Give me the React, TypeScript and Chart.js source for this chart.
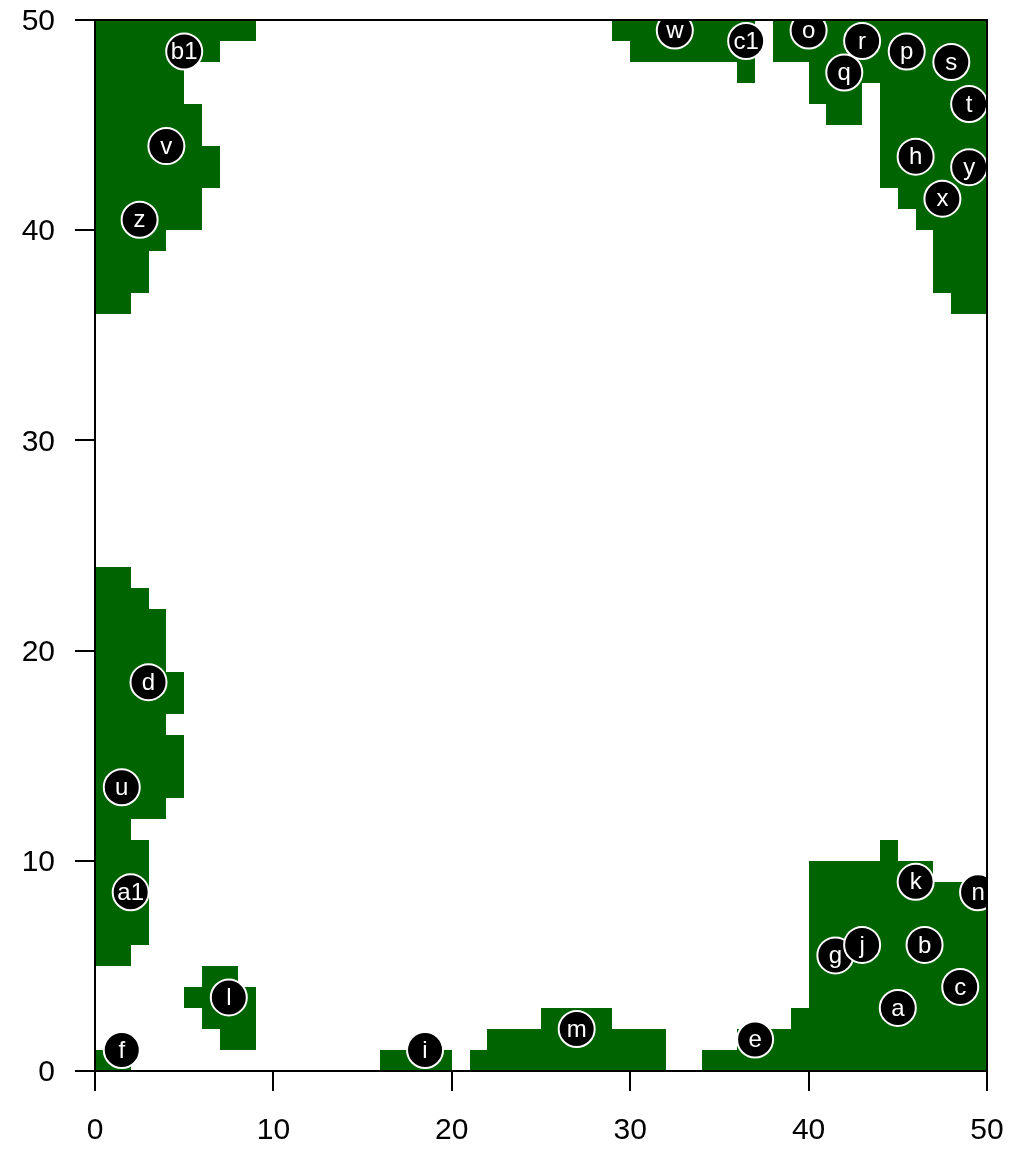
import React, { useEffect, useRef } from "react";
import { Chart, registerables } from "chart.js";

Chart.register(...registerables);

const FONT = '"Liberation Sans", Arial, Helvetica, sans-serif';
const GREEN = "#006400";

const xTicks = [0, 10, 20, 30, 40, 50];
const yTicks = [0, 10, 20, 30, 40, 50];

// green raster cells as runs: [row (lower y), x start, x end (exclusive)]
const greenRuns: [number, number, number][] = [
  // top-left block
  [49, 0, 9], [48, 0, 7], [47, 0, 5], [46, 0, 5], [45, 0, 6], [44, 0, 6],
  [43, 0, 7], [42, 0, 7], [41, 0, 6], [40, 0, 6], [39, 0, 4], [38, 0, 3],
  [37, 0, 3], [36, 0, 2],
  // top-right block
  [49, 29, 37], [49, 38, 50], [48, 30, 37], [48, 38, 50], [47, 36, 37],
  [47, 40, 50], [46, 40, 43], [46, 44, 50], [45, 41, 43], [45, 44, 50],
  [44, 44, 50], [43, 44, 50], [42, 44, 50], [41, 45, 50], [40, 46, 50],
  [39, 47, 50], [38, 47, 50], [37, 47, 50], [36, 48, 50],
  // left middle block
  [23, 0, 2], [22, 0, 3], [21, 0, 4], [20, 0, 4], [19, 0, 4], [18, 0, 5],
  [17, 0, 5], [16, 0, 4], [15, 0, 5], [14, 0, 5], [13, 0, 5], [12, 0, 4],
  [11, 0, 2], [10, 0, 3], [9, 0, 3], [8, 0, 3], [7, 0, 3], [6, 0, 3],
  [5, 0, 2],
  // small block near l
  [4, 6, 8], [3, 5, 9], [2, 6, 9], [1, 7, 9],
  // bottom row pieces
  [0, 0, 2], [0, 16, 20], [0, 21, 32], [1, 22, 32], [2, 25, 29],
  // bottom-right block
  [0, 34, 50], [1, 36, 50], [2, 39, 50], [3, 40, 50], [4, 40, 50],
  [5, 40, 50], [6, 40, 50], [7, 40, 50], [8, 40, 50], [9, 40, 47],
  [10, 44, 45],
];

const pointLabels = [
  "a", "b", "c", "d", "e", "f", "g", "h", "i", "j", "k", "l", "m", "n", "o",
  "p", "q", "r", "s", "t", "u", "v", "w", "x", "y", "z", "a1", "b1", "c1",
];
const pointX = [
  45, 46.5, 48.5, 3, 37, 1.5, 41.5, 46, 18.5, 43, 46, 7.5, 27, 49.5, 40,
  45.5, 42, 43, 48, 49, 1.5, 4, 32.5, 47.5, 49, 2.5, 2, 5, 36.5,
];
const pointY = [
  3, 6, 4, 18.5, 1.5, 1, 5.5, 43.5, 1, 6, 9, 3.5, 2, 8.5, 49.5,
  48.5, 47.5, 49, 48, 46, 13.5, 44, 49.5, 41.5, 43, 40.5, 8.5, 48.5, 49,
];

const cellsPlugin = {
  id: "cells",
  beforeDatasetsDraw(chart: any) {
    const { ctx, chartArea, scales } = chart;
    const xs = scales.x;
    const ys = scales.y;
    ctx.save();
    ctx.beginPath();
    ctx.rect(chartArea.left, chartArea.top, chartArea.right - chartArea.left, chartArea.bottom - chartArea.top);
    ctx.clip();
    ctx.fillStyle = GREEN;
    for (const [row, x0, x1] of greenRuns) {
      const l = Math.round(xs.getPixelForValue(x0));
      const r = Math.round(xs.getPixelForValue(x1));
      const t = Math.round(ys.getPixelForValue(row + 1));
      const b = Math.round(ys.getPixelForValue(row));
      ctx.fillRect(l, t, r - l, b - t);
    }
    ctx.restore();
  },
};

const labelsPlugin = {
  id: "ptlabels",
  afterDatasetsDraw(chart: any) {
    const { ctx, chartArea, scales } = chart;
    ctx.save();
    ctx.beginPath();
    ctx.rect(chartArea.left, chartArea.top, chartArea.right - chartArea.left, chartArea.bottom - chartArea.top);
    ctx.clip();
    ctx.fillStyle = "#fff";
    ctx.font = `24px ${FONT}`;
    ctx.textAlign = "center";
    ctx.textBaseline = "middle";
    pointLabels.forEach((lab, i) => {
      const px = scales.x.getPixelForValue(pointX[i]);
      const py = scales.y.getPixelForValue(pointY[i]);
      ctx.fillText(lab, px, py + 1);
    });
    ctx.restore();
  },
};

const boxPlugin = {
  id: "box",
  afterDraw(chart: any) {
    const { ctx, chartArea } = chart;
    ctx.save();
    ctx.strokeStyle = "#000";
    ctx.lineWidth = 2;
    ctx.strokeRect(chartArea.left, chartArea.top, chartArea.right - chartArea.left, chartArea.bottom - chartArea.top);
    ctx.restore();
  },
};

export default function App() {
  const ref = useRef<HTMLCanvasElement | null>(null);
  useEffect(() => {
    if (!ref.current) return;
    const axisCommon = (ticksArr: number[], padding: number, labelOffset: number) => ({
      type: "linear" as const,
      min: 0,
      max: 50,
      afterBuildTicks: (s: any) => {
        s.ticks = ticksArr.map((v) => ({ value: v }));
      },
      grid: {
        display: true,
        drawOnChartArea: false,
        drawTicks: true,
        tickLength: 20,
        color: "#000",
        lineWidth: 2,
      },
      border: { display: true, color: "#000", width: 2 },
      ticks: {
        font: { family: FONT, size: 30 },
        color: "#000",
        padding,
        labelOffset,
        maxRotation: 0,
        autoSkip: false,
      },
    });
    const chart = new Chart(ref.current, {
      type: "scatter",
      data: {
        datasets: [
          {
            data: pointX.map((x, i) => ({ x, y: pointY[i] })),
            pointRadius: 18,
            pointHoverRadius: 18,
            backgroundColor: "#000",
            borderColor: "#fff",
            borderWidth: 2,
            clip: 0,
          } as any,
        ],
      },
      options: {
        responsive: false,
        animation: false,
        events: [],
        layout: { padding: { left: 0, right: 43, top: 20, bottom: 0 } },
        plugins: { legend: { display: false }, tooltip: { enabled: false } },
        scales: {
          x: {
            ...axisCommon(xTicks, 22, 0),
            afterFit: (s: any) => {
              s.height = 78;
              s.paddingLeft = 0;
              s.paddingRight = 0;
            },
          },
          y: {
            ...axisCommon(yTicks, 20, 2),
            afterFit: (s: any) => {
              s.width = 95;
              s.paddingTop = 0;
              s.paddingBottom = 0;
            },
          },
        } as any,
      },
      plugins: [cellsPlugin, labelsPlugin, boxPlugin],
    });
    return () => chart.destroy();
  }, []);
  return (
    <div style={{ position: "absolute", left: 0, top: 0, width: 1030, height: 1149, background: "#fff" }}>
      <canvas ref={ref} width={1030} height={1149} />
    </div>
  );
}
